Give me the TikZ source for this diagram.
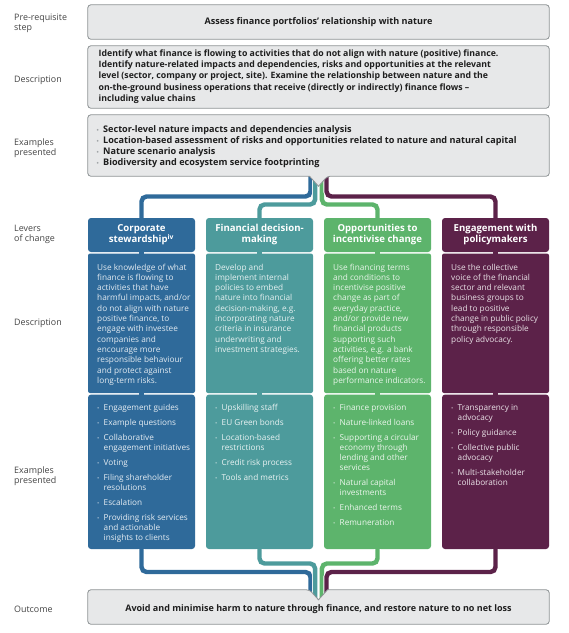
\documentclass[tikz,border=0pt]{standalone}
\usepackage{fontspec}
\setmainfont{Open Sans}
\usetikzlibrary{calc}
\definecolor{cblue}{HTML}{2F6A9A}
\definecolor{cteal}{HTML}{4D9B9C}
\definecolor{cgreen}{HTML}{5DB46C}
\definecolor{cmaroon}{HTML}{5C2249}
\definecolor{gfill}{HTML}{E7E8E9}
\definecolor{gline}{HTML}{8E9395}
\definecolor{lab}{HTML}{454545}
\definecolor{ink}{HTML}{1E1E1E}
\definecolor{gbul}{HTML}{A0A4A6}

\newcommand\fsz[2]{\fontsize{#1}{#2}\selectfont}
\newcommand\blk[3]{\begin{minipage}[t]{#1}#2#3\end{minipage}}
\newcommand\bitem[2]{\hangindent=6.5pt\hangafter=1\noindent\hbox to 6.5pt{\textcolor{#1}{\fontsize{6}{6}\selectfont\textbullet}\hfil}#2\par}
\newcommand\connector[2]{\draw[halo] #2; \draw[conn, #1] #2;}

\tikzset{
 gbox/.style={draw=gline, fill=gfill, line width=0.8pt, rounded corners=3pt},
 shapeonly/.style={inner sep=0pt, minimum width=461, minimum height=#1},
 lbl/.style={anchor=base west, inner sep=0pt, text=lab, font=\fsz{8.9}{10.8}},
 tnode/.style={anchor=base west, inner sep=0pt},
 conn/.style={line width=4.4pt, rounded corners=5pt},
 halo/.style={line width=6.2pt, white, rounded corners=5pt},
 colpart/.style={inner sep=0pt, minimum width=107, minimum height=#1, rounded corners=3pt},
 hdtext/.style={anchor=base, inner sep=0pt, text=white},
}

\begin{document}
\begin{tikzpicture}[x=1pt,y=-1pt]
\useasboundingbox[fill=white] (0,0) rectangle (569,633);

% invisible frames of the grey boxes
\path node[shapeonly=34] (pre) at (318.5,22) {}
      node[shapeonly=62] (dsc) at (318.5,77) {}
      node[shapeonly=61] (exb) at (318.5,145.5) {}
      node[shapeonly=34] (outb) at (318.5,607) {};

% columns
\foreach \c/\col/\n in {141.5/cblue/1, 259.5/cteal/2, 377.5/cgreen/3, 495.5/cmaroon/4}{
  \node[colpart=34, fill=\col] (hd\n) at (\c,235) {};
  \node[colpart=139.4, fill=\col, rounded corners=2pt] (ds\n) at (\c,323.3) {};
  \node[colpart=154.4, fill=\col] (ex\n) at (\c,471.8) {};
  \fill[\col] (\c-2.6,250) rectangle (\c+2.6,397);
}

% stems and levels
\coordinate (sB) at (310.5,0);
\coordinate (sT) at (315.1,0);
\coordinate (sG) at (321.9,0);
\coordinate (sM) at (326.5,0);
\coordinate (yA) at (0,196.5);
\coordinate (yB) at (0,204.5);
\coordinate (yC) at (0,563.5);
\coordinate (yD) at (0,572);
\coordinate (yE) at (0,606);

% top connectors
\connector{cblue}{(exb.south -| sB) -- (sB |- yA) -- (hd1.north |- yA) -- (hd1.north)}
\connector{cteal}{(exb.south -| sT) -- (sT |- yB) -- (hd2.north |- yB) -- (hd2.north)}
\connector{cgreen}{(exb.south -| sG) -- (sG |- yB) -- (hd3.north |- yB) -- (hd3.north)}
\connector{cmaroon}{(exb.south -| sM) -- (sM |- yA) -- (hd4.north |- yA) -- (hd4.north)}
% bottom connectors
\connector{cblue}{(ex1.south) -- (ex1.south |- yD) -- (sB |- yD) -- (sB |- yE)}
\connector{cteal}{(ex2.south) -- (ex2.south |- yC) -- (sT |- yC) -- (sT |- yE)}
\connector{cgreen}{(ex3.south) -- (ex3.south |- yC) -- (sG |- yC) -- (sG |- yE)}
\connector{cmaroon}{(ex4.south) -- (ex4.south |- yD) -- (sM |- yD) -- (sM |- yE)}

% grey boxes
\draw[gbox] (pre.north west) rectangle (pre.south east);
\draw[gbox] (dsc.north west) rectangle (dsc.south east);
\draw[gbox] (exb.north west) -- (exb.north east) -- (exb.south east) -- ($(exb.south)+(9,0)$)
   [sharp corners] -- ($(exb.south)+(0,10)$) -- ($(exb.south)+(-9,0)$) [rounded corners=3pt] -- (exb.south west) -- cycle;
\draw[gbox] (outb.north west) -- ($(outb.north)+(-9,0)$) [sharp corners] -- ($(outb.north)+(0,10)$)
   -- ($(outb.north)+(9,0)$) [rounded corners=3pt] -- (outb.north east) -- (outb.south east) -- (outb.south west) -- cycle;

% left labels
\node[lbl] (l1) at (14,20) {\vtop{\hbox{Pre-requisite}\hbox{step}}};
\node[lbl] (l2) at (14,82) {Description};
\node[lbl] (l3) at (14,145) {\vtop{\hbox{Examples}\hbox{presented}}};
\node[lbl] (l4) at (14,231) {\vtop{\hbox{Levers}\hbox{of change}}};
\node[lbl] (l5) at (14,325) {Description};
\node[lbl] (l6) at (14,473) {\vtop{\hbox{Examples}\hbox{presented}}};
\node[lbl] (l7) at (14,612) {Outcome};

% grey box texts
\node[inner sep=0pt, text=ink, font=\bfseries\fsz{9.1}{11}] (preT) at (pre.center) {Assess finance portfolios’ relationship with nature};
\node[tnode, text=ink] (dscT) at (98.5,56.5) {\blk{445pt}{\bfseries\fsz{8.75}{11.2}}{%
Identify what finance is flowing to activities that do not align with nature (positive) finance.\\
Identify nature-related impacts and dependencies, risks and opportunities at the relevant\\
level (sector, company or project, site). Examine the relationship between nature and the\\
on-the-ground business operations that receive (directly or indirectly) finance flows –\\
including value chains}};
\node[tnode, text=ink] (exbT) at (96.5,132.2) {\blk{445pt}{\bfseries\fsz{9.1}{11}}{%
\bitem{gbul}{Sector-level nature impacts and dependencies analysis}%
\bitem{gbul}{Location-based assessment of risks and opportunities related to nature and natural capital}%
\bitem{gbul}{Nature scenario analysis}%
\bitem{gbul}{Biodiversity and ecosystem service footprinting}}};
\node[inner sep=0pt, text=ink, font=\bfseries\fsz{9.0}{11}] (outT) at ($(outb.center)+(0,2)$) {Avoid and minimise harm to nature through finance, and restore nature to no net loss};

% column headers
\node[hdtext] (h1) at (141.5,231.6) {\blk{106pt}{\centering\bfseries\fsz{9.6}{11.2}}{Corporate\\stewardship\textsuperscript{iv}}};
\node[hdtext] (h2) at (259.5,231.6) {\blk{106pt}{\centering\bfseries\fsz{9.6}{11.2}}{Financial decision-\\making}};
\node[hdtext] (h3) at (377.5,231.6) {\blk{106pt}{\centering\bfseries\fsz{9.6}{11.2}}{Opportunities to\\incentivise change}};
\node[hdtext] (h4) at (495.5,231.6) {\blk{106pt}{\centering\bfseries\fsz{9.6}{11.2}}{Engagement with\\policymakers}};

% column descriptions
\node[tnode, text=white!86!cblue] (d1) at (97,270) {\blk{110pt}{\fsz{8.25}{10.3}\raggedright}{%
Use knowledge of what\\finance is flowing to\\activities that have\\harmful impacts, and/or\\do not align with nature\\positive finance, to\\engage with investee\\companies and\\encourage more\\responsible behaviour\\and protect against\\long-term risks.}};
\node[tnode, text=white!86!cteal] (d2) at (215,270) {\blk{110pt}{\fsz{8.25}{10.3}\raggedright}{%
Develop and\\implement internal\\policies to embed\\nature into financial\\decision-making, e.g.\\incorporating nature\\criteria in insurance\\underwriting and\\investment strategies.}};
\node[tnode, text=white!86!cgreen] (d3) at (333,270) {\blk{110pt}{\fsz{8.25}{10.3}\raggedright}{%
Use financing terms\\and conditions to\\incentivise positive\\change as part of\\everyday practice,\\and/or provide new\\financial products\\supporting such\\activities, e.g. a bank\\offering better rates\\based on nature\\performance indicators.}};
\node[tnode, text=white!86!cmaroon] (d4) at (451,270) {\blk{110pt}{\fsz{8.25}{10.3}\raggedright}{%
Use the collective\\voice of the financial\\sector and relevant\\business groups to\\lead to positive\\change in public policy\\through responsible\\policy advocacy.}};

% column examples
\node[tnode, text=white!88!cblue] (x1) at (97,410) {\blk{110pt}{\fsz{8.2}{10}\raggedright\parskip=5pt}{%
\bitem{white!60!cblue}{Engagement guides}%
\bitem{white!60!cblue}{Example questions}%
\bitem{white!60!cblue}{Collaborative\newline engagement initiatives}%
\bitem{white!60!cblue}{Voting}%
\bitem{white!60!cblue}{Filing shareholder\newline resolutions}%
\bitem{white!60!cblue}{Escalation}%
\bitem{white!60!cblue}{Providing risk services\newline and actionable\newline insights to clients}}};
\node[tnode, text=white!88!cteal] (x2) at (215,410) {\blk{110pt}{\fsz{8.2}{10}\raggedright\parskip=5pt}{%
\bitem{white!60!cteal}{Upskilling staff}%
\bitem{white!60!cteal}{EU Green bonds}%
\bitem{white!60!cteal}{Location-based\newline restrictions}%
\bitem{white!60!cteal}{Credit risk process}%
\bitem{white!60!cteal}{Tools and metrics}}};
\node[tnode, text=white!88!cgreen] (x3) at (333,410) {\blk{110pt}{\fsz{8.2}{10}\raggedright\parskip=5pt}{%
\bitem{white!60!cgreen}{Finance provision}%
\bitem{white!60!cgreen}{Nature-linked loans}%
\bitem{white!60!cgreen}{Supporting a circular\newline economy through\newline lending and other\newline services}%
\bitem{white!60!cgreen}{Natural capital\newline investments}%
\bitem{white!60!cgreen}{Enhanced terms}%
\bitem{white!60!cgreen}{Remuneration}}};
\node[tnode, text=white!88!cmaroon] (x4) at (451,410) {\blk{110pt}{\fsz{8.2}{10}\raggedright\parskip=5pt}{%
\bitem{white!60!cmaroon}{Transparency in\newline advocacy}%
\bitem{white!60!cmaroon}{Policy guidance}%
\bitem{white!60!cmaroon}{Collective public\newline advocacy}%
\bitem{white!60!cmaroon}{Multi-stakeholder\newline collaboration}}};
\end{tikzpicture}
\end{document}
